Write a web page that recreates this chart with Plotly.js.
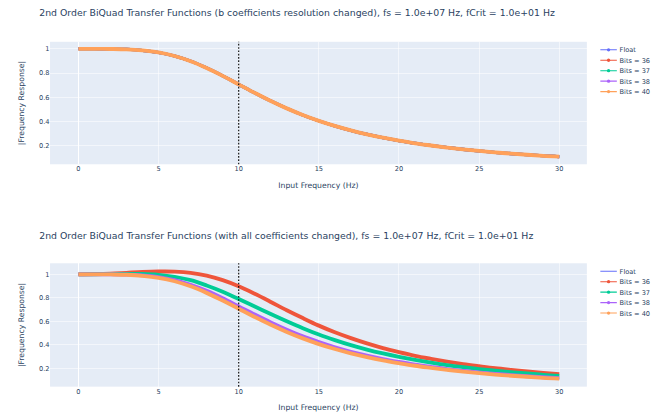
<!DOCTYPE html>
<html>
<head>
<meta charset="utf-8">
<script src="https://cdn.plot.ly/plotly-3.0.1.min.js"></script>
<style>
html,body{margin:0;padding:0;overflow:hidden;background:#fff;width:667px;height:420px}
#wrap{width:667px;height:420px;overflow:hidden;position:relative}
#chart{width:1213px;height:764px;transform:scale(0.55);transform-origin:0 0;position:absolute;left:0;top:0}
</style>
</head>
<body>
<div id="wrap"><div id="chart"></div></div>
<script>
// ---- data ----
const freqHz = [0,1,2,3,4,5,6,7,8,9,10,11,12,13,14,15,16,17,18,19,20,21,22,23,24,25,26,27,28,29,30];
const seriesNames = ['Float','Bits = 36','Bits = 37','Bits = 38','Bits = 40'];

// Top chart: b-coefficient resolution changed -> all series coincide
const magTopFloat = [1.000,1.000,0.999,0.996,0.987,0.970,0.941,0.898,0.842,0.777,0.707,0.637,0.570,0.509,0.454,0.406,0.364,0.327,0.295,0.267,0.243,0.221,0.203,0.186,0.171,0.158,0.146,0.136,0.127,0.118,0.111];
const magTop36 = magTopFloat.slice();
const magTop37 = magTopFloat.slice();
const magTop38 = magTopFloat.slice();
const magTop40 = magTopFloat.slice();

// Bottom chart: all coefficients changed
const magBotFloat = [1.000,1.000,0.999,0.996,0.987,0.970,0.941,0.898,0.842,0.777,0.707,0.637,0.570,0.509,0.454,0.406,0.364,0.327,0.295,0.267,0.243,0.221,0.203,0.186,0.171,0.158,0.146,0.136,0.127,0.118,0.111];
const magBot36 = [1.000,1.002,1.006,1.013,1.020,1.024,1.023,1.013,0.989,0.950,0.898,0.834,0.765,0.694,0.627,0.563,0.506,0.456,0.411,0.371,0.337,0.306,0.280,0.256,0.235,0.217,0.200,0.186,0.173,0.161,0.150];
const magBot37 = [1.000,1.001,1.002,1.004,1.003,0.996,0.979,0.950,0.905,0.852,0.790,0.726,0.662,0.600,0.541,0.487,0.440,0.397,0.359,0.326,0.297,0.271,0.248,0.227,0.209,0.193,0.179,0.166,0.155,0.144,0.135];
const magBot38 = [1.000,1.000,1.000,0.998,0.991,0.977,0.951,0.911,0.859,0.796,0.727,0.657,0.590,0.528,0.471,0.422,0.378,0.340,0.307,0.278,0.253,0.230,0.211,0.193,0.178,0.164,0.152,0.141,0.132,0.123,0.115];
const magBot40 = [1.000,1.000,0.999,0.996,0.987,0.970,0.941,0.898,0.842,0.777,0.707,0.637,0.570,0.509,0.454,0.406,0.364,0.327,0.295,0.267,0.243,0.221,0.203,0.186,0.171,0.158,0.146,0.136,0.127,0.118,0.111];
const fCrit = 10;

const topTitle = '2nd Order BiQuad Transfer Functions (b coefficients resolution changed), fs = 1.0e+07 Hz, fCrit = 1.0e+01 Hz';
const botTitle = '2nd Order BiQuad Transfer Functions (with all coefficients changed), fs = 1.0e+07 Hz, fCrit = 1.0e+01 Hz';
const xTitle = 'Input Frequency (Hz)';
const yTitle = '|Frequency Response|';

// ---- styles ----
const colors = ['#636efa','#EF553B','#00cc96','#ab63fa','#FFA15A'];
const THICK = 7;
const FONT = '"DejaVu Sans", Verdana, sans-serif';

const topData = [magTopFloat, magTop36, magTop37, magTop38, magTop40];
const botData = [magBotFloat, magBot36, magBot37, magBot38, magBot40];

const traces = [];
topData.forEach((ys, i) => {
  traces.push({x: freqHz, y: ys, xaxis:'x', yaxis:'y', mode:'lines', type:'scatter',
    line:{color:colors[i], width: i===4 ? THICK : THICK-1.5, shape:'spline'}, showlegend:false, hoverinfo:'skip'});
});
botData.forEach((ys, i) => {
  traces.push({x: freqHz, y: ys, xaxis:'x2', yaxis:'y2', mode:'lines', type:'scatter',
    line:{color:colors[i], width: i===0 ? 2 : THICK, shape:'spline'}, showlegend:false, hoverinfo:'skip'});
});
// legend entries
seriesNames.forEach((nm, i) => {
  traces.push({x:[null], y:[null], xaxis:'x', yaxis:'y', name:nm, mode:'lines+markers', type:'scatter',
    line:{color:colors[i], width:2}, marker:{color:colors[i], size:6}, legend:'legend'});
});
seriesNames.forEach((nm, i) => {
  traces.push({x:[null], y:[null], xaxis:'x2', yaxis:'y2', name:nm, mode: i===0 ? 'lines' : 'lines+markers', type:'scatter',
    line:{color:colors[i], width:2}, marker:{color:colors[i], size:6}, legend:'legend2'});
});

const axisCommon = {
  gridcolor:'white', zerolinecolor:'white', zerolinewidth:2, linecolor:'white',
  showline:false, ticks:'', automargin:false,
  tickfont:{size:12, color:'#2a3f5f'}
};
const xCommon = Object.assign({}, axisCommon, {range:[-1.77,31.72], dtick:5,
  title:{text:xTitle, font:{size:14, color:'#2a3f5f'}, standoff:17}});
const yCommon = Object.assign({}, axisCommon, {dtick:0.2,
  title:{text:yTitle, font:{size:14, color:'#2a3f5f'}, standoff:22}});

const layout = {
  width:1213, height:764,
  margin:{l:91, r:146, t:76, b:61, autoexpand:false},
  paper_bgcolor:'white', plot_bgcolor:'#E5ECF6',
  font:{family:FONT, size:12, color:'#2a3f5f'},
  xaxis: Object.assign({}, xCommon, {domain:[0,1], anchor:'y'}),
  yaxis: Object.assign({}, yCommon, {domain:[0.6448,1], anchor:'x', range:[0.048,1.058]}),
  xaxis2: Object.assign({}, xCommon, {domain:[0,1], anchor:'y2'}),
  yaxis2: Object.assign({}, yCommon, {domain:[0,0.3577], anchor:'x2', range:[0.043,1.094]}),
  legend:{x:1.02, y:1, xanchor:'left', yanchor:'top', font:{size:12, color:'#2a3f5f'}},
  legend2:{x:1.02, y:0.3577, xanchor:'left', yanchor:'top', font:{size:12, color:'#2a3f5f'}},
  shapes:[
    {type:'line', xref:'x', yref:'y domain', x0:fCrit, x1:fCrit, y0:0, y1:1, line:{color:'black', width:2, dash:'dot'}},
    {type:'line', xref:'x2', yref:'y2 domain', x0:fCrit, x1:fCrit, y0:0, y1:1, line:{color:'black', width:2, dash:'dot'}}
  ],
  annotations:[
    {text:topTitle, xref:'paper', yref:'paper', x:-0.0225, y:1.084, xanchor:'left', yanchor:'middle', showarrow:false, font:{size:17, color:'#2a3f5f'}},
    {text:botTitle, xref:'paper', yref:'paper', x:-0.0225, y:0.4375, xanchor:'left', yanchor:'middle', showarrow:false, font:{size:17, color:'#2a3f5f'}}
  ],
  showlegend:true
};

Plotly.newPlot('chart', traces, layout, {staticPlot:true, displayModeBar:false});
</script>
</body>
</html>
